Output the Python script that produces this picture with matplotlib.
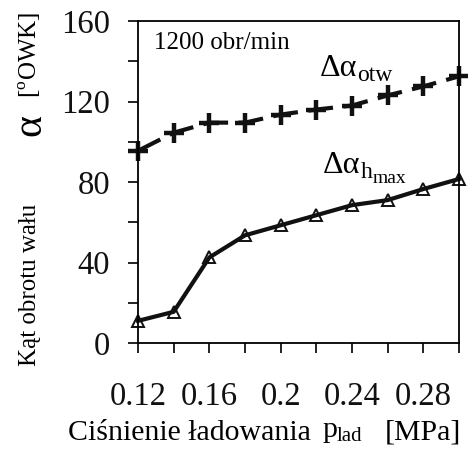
import matplotlib
matplotlib.use('Agg')
import matplotlib.pyplot as plt
from matplotlib.ticker import MultipleLocator

plt.rcParams['font.family'] = ['Liberation Serif', 'DejaVu Serif']
plt.rcParams['mathtext.fontset'] = 'custom'
plt.rcParams['mathtext.rm'] = 'Liberation Serif'

# pressure [MPa]
p_lad = [0.12, 0.14, 0.16, 0.18, 0.20, 0.22, 0.24, 0.26, 0.28, 0.30]
# crank angles [deg]
d_alpha_otw = [95.5, 104.5, 109.5, 109.5, 113.5, 116, 118, 123, 127.5, 132.5]
d_alpha_hmax = [11, 15.5, 42.5, 53.5, 58.5, 63.5, 68.5, 71, 76.5, 81.5]

W, H = 468, 450
fig = plt.figure(figsize=(W / 100, H / 100), dpi=100)
ax = fig.add_axes([138 / W, 1 - 343 / H, 321 / W, 322 / H])

ax.plot(p_lad, d_alpha_otw, color='#111111', lw=3, ls=(0, (6, 2.5)),
        marker='+', ms=14, mew=3.2, clip_on=False)
ax.plot(p_lad, d_alpha_hmax, color='#111111', lw=3,
        marker='^', ms=9, mfc='none', mew=1.4, clip_on=False)

ax.set_xlim(0.12, 0.30)
ax.set_ylim(0, 160)
ax.xaxis.set_minor_locator(MultipleLocator(0.02))
ax.yaxis.set_major_locator(MultipleLocator(40))
ax.yaxis.set_minor_locator(MultipleLocator(20))
ax.set_xticks([0.12, 0.16, 0.20, 0.24, 0.28])
ax.set_xticklabels(['0.12', '0.16', '0.2', '0.24', '0.28'])
ax.tick_params(which='both', direction='out', length=7, width=1.3,
               labelsize=23.5, colors='#111111')
ax.tick_params(axis='x', pad=21)
ax.tick_params(axis='y', pad=13)
for s in ax.spines.values():
    s.set_linewidth(1.3)

# x label
fig.text(68 / W, 1 - 440 / H, 'Ciśnienie ładowania', fontsize=21.5, va='baseline')
fig.text(322 / W, 1 - 437 / H, 'p', fontsize=21.5, va='baseline')
fig.text(337 / W, 1 - 441 / H, 'lad', fontsize=15, va='baseline')
fig.text(461 / W, 1 - 440 / H, '[MPa]', fontsize=21.5, ha='right', va='baseline')

# y label
fig.text(30 / W, 1 - 366 / H, 'Kąt obrotu wału', fontsize=18,
         rotation=90, ha='center', va='bottom')
fig.text(30 / W, 1 - 125 / H, 'α', fontsize=30,
         rotation=90, ha='center', va='center')
fig.text(30 / W, 1 - 12 / H, r'[$^{\rm o}$OWK]', fontsize=18,
         rotation=90, ha='center', va='top')

ax.text(0.05, 0.913, '1200 obr/min', transform=ax.transAxes, fontsize=18,
        va='baseline')

# curve labels with large subscripts
t1 = ax.text(0.2221, 132.7, 'Δα', fontsize=23)
t2 = ax.text(0.2237, 84.7, 'Δα', fontsize=23)
fig.canvas.draw()
x1 = t1.get_window_extent().x1
x2 = t2.get_window_extent().x1
y1 = ax.transData.transform((0, 132.7))[1]
y2 = ax.transData.transform((0, 84.7))[1]
fig.text(x1 / W, (y1 - 5) / H, 'otw', fontsize=17, va='baseline')
th = fig.text(x2 / W, (y2 - 5) / H, 'h', fontsize=17, va='baseline')
fig.canvas.draw()
fig.text(th.get_window_extent().x1 / W, (y2 - 10) / H, 'max', fontsize=14,
         va='baseline')

fig.savefig('out.png', dpi=100)
